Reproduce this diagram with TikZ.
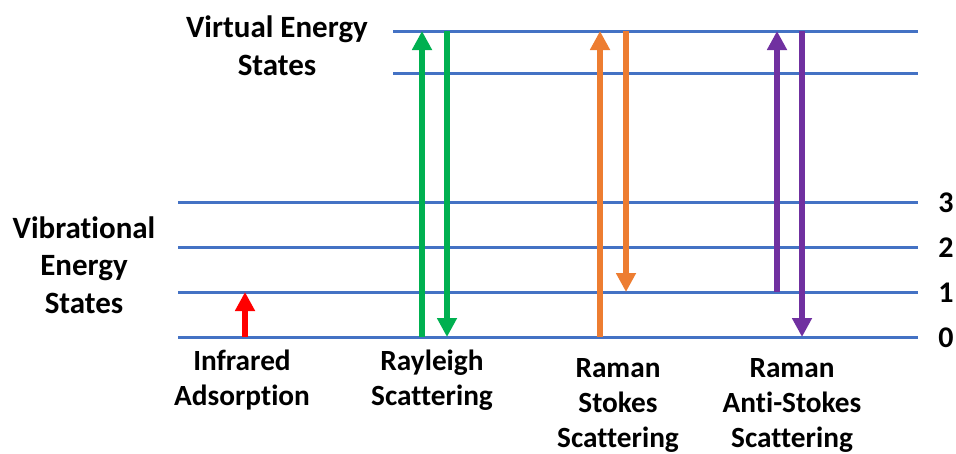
\documentclass[tikz,border=0pt]{standalone}
\usepackage{fontspec}
\setmainfont[Ligatures=NoCommon]{Carlito}
\usetikzlibrary{arrows.meta}

\definecolor{levelblue}{HTML}{4472C4}
\definecolor{irred}{HTML}{FF0000}
\definecolor{raygreen}{HTML}{00B050}
\definecolor{stokesorange}{HTML}{ED7D31}
\definecolor{antipurple}{HTML}{7030A0}

\tikzset{
  level/.style={draw=levelblue, line width=3pt},
  transition/.style={line width=6pt, -{Triangle[width=19pt,length=19pt]}},
  title/.style={font=\bfseries\fontsize{31}{37.5}\selectfont, align=center, inner sep=0pt, anchor=base},
  caption/.style={font=\bfseries\fontsize{29.3}{35}\selectfont, align=center, inner sep=0pt, anchor=base},
  levelnum/.style={font=\bfseries\fontsize{30}{36}\selectfont, inner sep=0pt, anchor=base},
}

\begin{document}
\begin{tikzpicture}[x=1pt, y=-1pt]
  \useasboundingbox (0,0) rectangle (956,453);

  % vibrational levels
  \foreach \n/\yy in {0/337, 1/292, 2/247, 3/202} {
    \coordinate (v\n L) at (178,\yy);
    \coordinate (v\n R) at (918,\yy);
    \draw[level] (v\n L) -- (v\n R);
    \node[levelnum] (n\n) at (946,\yy+10.5) {\n};
  }
  % virtual levels
  \coordinate (uL) at (393,31);  \coordinate (uR) at (918,31);
  \coordinate (wL) at (393,73);  \coordinate (wR) at (918,73);
  \draw[level] (uL) -- (uR);
  \draw[level] (wL) -- (wR);

  % transition end points
  \coordinate (ir0) at (245,337);  \coordinate (ir1) at (245,292);
  \coordinate (ra0) at (422,337);  \coordinate (ra1) at (422,31);
  \coordinate (rb1) at (447,31);   \coordinate (rb0) at (447,337);
  \coordinate (sa0) at (600,337);  \coordinate (sa1) at (600,31);
  \coordinate (sb1) at (626,31);   \coordinate (sb0) at (626,292);
  \coordinate (aa0) at (777,292);  \coordinate (aa1) at (777,31);
  \coordinate (ab1) at (802,31);   \coordinate (ab0) at (802,337);

  % transitions
  \draw[transition, irred] (ir0) -- (ir1);
  \draw[transition, raygreen] (ra0) -- (ra1);
  \draw[transition, raygreen] (rb1) -- (rb0);
  \draw[transition, stokesorange] (sa0) -- (sa1);
  \draw[transition, stokesorange] (sb1) -- (sb0);
  \draw[transition, antipurple] (aa0) -- (aa1);
  \draw[transition, antipurple] (ab1) -- (ab0);

  % labels (base anchor = baseline of the last line)
  \node[title] (virt) at (277,75) {Virtual Energy\\States};
  \node[title] (vib) at (84,313) {Vibrational\\Energy\\States};
  \node[caption] (ir) at (242,405) {Infrared\\Adsorption};
  \node[caption] (ray) at (432,405) {Rayleigh\\Scattering};
  \node[caption] (sto) at (618,447) {Raman\\Stokes\\Scattering};
  \node[caption] (anti) at (792,447) {Raman\\Anti-Stokes\\Scattering};
\end{tikzpicture}
\end{document}
